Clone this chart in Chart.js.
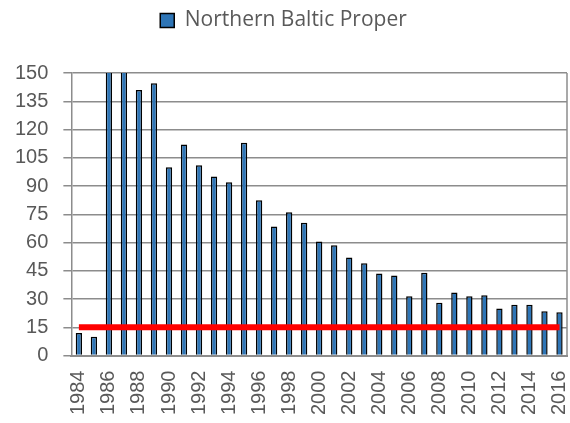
<!DOCTYPE html>
<html>
<head>
<meta charset="utf-8">
<script src="https://cdn.jsdelivr.net/npm/chart.js@4/dist/chart.umd.min.js"></script>
<style>
  html, body { margin: 0; padding: 0; background: #fff; }
  #wrap { width: 570px; height: 423px; }
</style>
</head>
<body>
<div id="wrap"><canvas id="myChart"></canvas></div>
<script>
// years on the x axis, one bar per year
var years = [];
for (var y = 1984; y <= 2016; y++) years.push(String(y));

// Northern Baltic Proper values (1986, 1987 run past the top)
var balticValues = [12, 10, 165, 165, 141, 144.5, 100, 112, 101, 95, 92, 113,
  82.5, 68.5, 76, 70.5, 60.5, 58.5, 52, 49, 43.5, 42.5, 31.5, 44, 28, 33.5,
  31.5, 32, 25, 27, 27, 23.5, 23];

// the red reference level
var targetLevel = 15;
var targetValues = years.map(function () { return targetLevel; });

var ctx = document.getElementById('myChart').getContext('2d');
var chart = new Chart(ctx, {
  data: {
    labels: years,
    datasets: [
      {
        type: 'line',
        label: 'target',
        data: targetValues,
        borderColor: '#ff0000',
        borderWidth: 6,
        pointRadius: 0,
        fill: false,
        order: 0
      },
      {
        type: 'bar',
        label: 'Northern Baltic Proper',
        data: balticValues,
        backgroundColor: '#2e75b6',
        borderColor: '#000000',
        borderWidth: 1.5,
        barPercentage: 0.42,
        categoryPercentage: 1,
        order: 1
      }
    ]
  },
  options: {
    responsive: true,
    maintainAspectRatio: false,
    animation: false,
    layout: { padding: { left: 0, right: 3, top: 10, bottom: 0 } },
    plugins: {
      legend: {
        position: 'top',
        labels: {
          filter: function (item) { return item.text !== 'target'; },
          font: { family: 'Open Sans', size: 21 },
          color: '#595959',
          boxWidth: 14,
          boxHeight: 14,
          padding: 0
        }
      },
      tooltip: { enabled: false }
    },
    scales: {
      x: {
        grid: { display: false, drawTicks: false },
        border: { display: true, color: '#8c8c8c', width: 2 },
        ticks: {
          autoSkip: false,
          minRotation: 90,
          maxRotation: 90,
          padding: 15,
          color: '#595959',
          font: { family: 'Liberation Sans', size: 20 },
          callback: function (val, i) {
            return i % 2 === 0 ? this.getLabelForValue(val) : '';
          }
        },
        afterFit: function (s) {
          // rotated labels ask for too much room at the sides and bottom
          s.paddingLeft = 0;
          s.paddingRight = 0;
          s.height -= 7;
        }
      },
      y: {
        min: 0,
        max: 150,
        grid: { color: '#8c8c8c', lineWidth: 1.5, tickLength: 8 },
        border: { display: true, color: '#8c8c8c', width: 1.5 },
        ticks: {
          autoSkip: false,
          stepSize: 15,
          color: '#595959',
          padding: 15,
          font: { family: 'Liberation Sans', size: 20 }
        }
      }
    }
  },
  plugins: [{
    id: 'legendGap',
    beforeInit: function (c) {
      var fit = c.legend.fit;
      c.legend.fit = function () {
        fit.call(this);
        this.height += 32;
      };
    }
  }, {
    id: 'rightEdge',
    afterDraw: function (c) {
      var a = c.chartArea, g = c.ctx;
      g.save();
      g.strokeStyle = '#8c8c8c';
      g.lineWidth = 1.5;
      g.beginPath();
      g.moveTo(a.right, a.top);
      g.lineTo(a.right, a.bottom);
      g.stroke();
      g.restore();
    }
  }]
});
</script>
</body>
</html>
